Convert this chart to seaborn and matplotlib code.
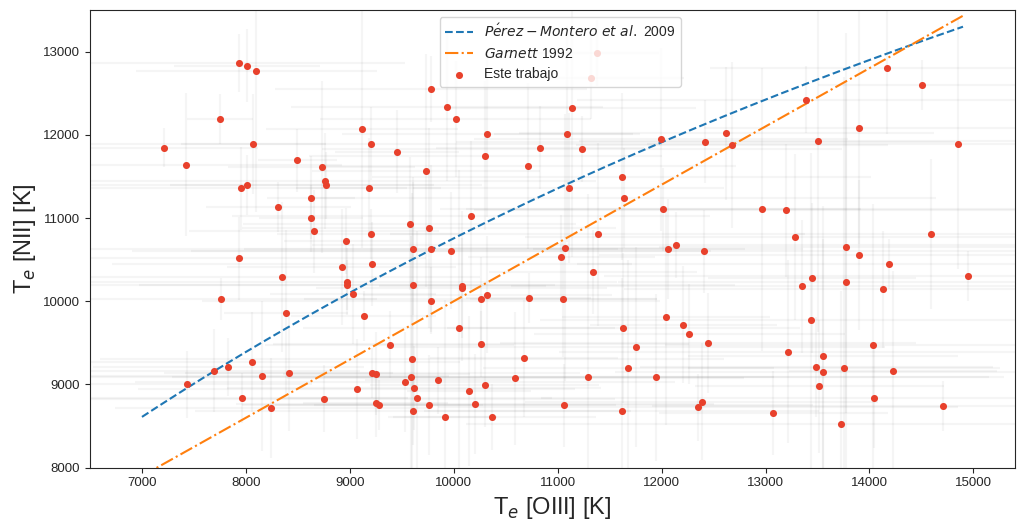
import numpy as np
import pandas as pd
import matplotlib
matplotlib.use("Agg")
import matplotlib.pyplot as plt
import seaborn as sns

# Electron temperatures of the sample: T_e[OIII], T_e[NII] and their uncertainties (K)
t_oiii = [7935, 8009, 8101, 7749, 9117, 9200, 9453, 7214, 8072, 7426,
          8495, 8729, 8764, 8774, 8009, 7954, 9181, 8627, 8312, 8627,
          8655, 9200, 8966, 7935, 9216, 8922, 8348, 8975, 8975, 9030,
          7759, 8386, 9133, 9383, 8063, 7695, 7832, 8156, 8415, 9216,
          9254, 7438, 9066, 7961, 8749, 8245, 9248, 9280, 9607, 9780,
          9975, 11035, 11070, 12060, 12134, 12405, 9607, 10075, 10084, 9780,
          10260, 10324, 10721, 11055, 11339, 10049, 10260, 9597, 10676, 11631,
          11752, 12040, 12207, 12268, 9585, 9530, 9616, 9642, 9607, 9850,
          9760, 9917, 10148, 10296, 10202, 10369, 10593, 11291, 11060, 11679,
          11948, 11615, 12352, 12386, 13777, 13895, 14190, 13443, 13351, 13777,
          14135, 14946, 13433, 12448, 13212, 13553, 14033, 13488, 13553, 13757,
          14228, 13517, 14043, 14708, 13075, 13722, 14164, 14504, 13389, 13904,
          12419, 12624, 12674, 13507, 14855, 12969, 13193, 13287, 14596, 9780,
          9936, 10017, 11134, 10324, 11089, 10830, 11237, 10305, 9732, 10712,
          11992, 11615, 11105, 11641, 12015, 10167, 9575, 9760, 11384, 11375,
          11320]
t_nii = [12861, 12828, 12768, 12191, 12067, 11891, 11798, 11846, 11891, 11638,
         11695, 11614, 11442, 11394, 11394, 11358, 11358, 11245, 11130, 10997,
         10841, 10805, 10725, 10517, 10448, 10412, 10288, 10235, 10192, 10091,
         10027, 9859, 9823, 9478, 9267, 9166, 9210, 9105, 9142, 9142,
         9130, 9002, 8946, 8841, 8829, 8717, 8774, 8750, 10632, 10632,
         10608, 10536, 10644, 10632, 10677, 10601, 10192, 10160, 10180, 10007,
         10031, 10079, 10043, 10031, 10352, 9682, 9487, 9303, 9315, 9682,
         9454, 9811, 9719, 9603, 9086, 9026, 8958, 8841, 8678, 9050,
         8750, 8609, 8922, 8990, 8769, 8609, 9074, 9094, 8750, 9198,
         9086, 8678, 8726, 8793, 10656, 10560, 10448, 10276, 10180, 10228,
         10144, 10307, 9775, 9499, 9394, 9346, 9474, 9210, 9150, 9198,
         9166, 8978, 8841, 8738, 8657, 8529, 12804, 12596, 12423, 12086,
         11915, 12019, 11878, 11927, 11891, 11106, 11094, 10769, 10805, 12548,
         12339, 12191, 12327, 12007, 12007, 11846, 11830, 11750, 11566, 11626,
         11947, 11498, 11358, 11245, 11106, 11025, 10933, 10884, 10805, 12981,
         12687]
err_oiii = [1600, 700, 1160, 320, 920, 2800, 600, 900, 700, 1500,
            380, 900, 2600, 1500, 1800, 1600, 700, 420, 700, 500,
            1200, 900, 600, 1800, 2500, 1100, 1900, 2600, 2000, 800,
            1500, 600, 700, 1200, 2000, 1400, 1300, 1800, 1000, 2000,
            900, 1200, 2100, 1600, 2800, 1500, 700, 1000, 3200, 1800,
            2500, 900, 1100, 1300, 3500, 5500, 3100, 1400, 800, 2200,
            1700, 1200, 600, 900, 1000, 1500, 2000, 3000, 900, 1700,
            2400, 1000, 900, 1500, 3500, 2600, 1800, 1300, 2100, 700,
            1800, 500, 600, 1100, 2300, 1000, 2200, 4000, 2400, 1400,
            3200, 1900, 2500, 1700, 1800, 2500, 3000, 1000, 2800, 2200,
            2500, 3500, 2600, 2000, 2200, 1300, 2000, 1700, 2000, 1500,
            1000, 1200, 3200, 2800, 1100, 3600, 1700, 1000, 2200, 1500,
            2400, 2000, 1500, 2300, 3000, 3100, 3000, 2600, 1300, 1500,
            1500, 1300, 1200, 1400, 700, 1000, 2500, 1700, 1100, 2000,
            1800, 2400, 1500, 3000, 1900, 2300, 1600, 1800, 2000, 600,
            900]
err_nii = [350, 440, 1700, 300, 1430, 440, 500, 230, 600, 860,
           380, 1030, 580, 400, 360, 500, 600, 500, 300, 400,
           500, 300, 400, 500, 500, 700, 900, 400, 300, 600,
           250, 1000, 300, 400, 600, 500, 350, 900, 700, 300,
           500, 400, 600, 300, 400, 600, 400, 300, 800, 1000,
           700, 500, 1600, 600, 400, 500, 1300, 600, 900, 400,
           500, 700, 300, 700, 500, 1900, 400, 2000, 700, 900,
           1200, 1300, 700, 600, 1700, 600, 500, 2000, 400, 400,
           600, 1400, 900, 500, 600, 400, 800, 2200, 500, 1300,
           1000, 1600, 400, 700, 2000, 900, 300, 900, 800, 3000,
           700, 300, 2000, 600, 1100, 1800, 1700, 600, 1600, 3500,
           1200, 800, 600, 300, 500, 1600, 800, 300, 400, 1400,
           500, 800, 1000, 2300, 1500, 1700, 800, 1000, 900, 400,
           900, 700, 1800, 1000, 1300, 500, 400, 900, 1400, 1000,
           1100, 1000, 900, 600, 500, 900, 800, 1200, 1100, 400,
           500]

# Relations from the literature, evaluated on a T_e[OIII] grid (K)
t_grid = np.linspace(7000, 14900, 200)
t4 = t_grid / 1e4
perez_montero = 1e4 * 1.85 / (1.0 / t4 + 0.72)
garnett = 0.7 * t_grid + 3000

df = pd.DataFrame({"toiii": t_oiii, "tnii": t_nii})
lines = pd.DataFrame({"t": t_grid, "pm": perez_montero, "g": garnett})

sns.set_style("ticks")
plt.rcParams["font.family"] = ["Liberation Sans", "DejaVu Sans"]
plt.rcParams["mathtext.fontset"] = "dejavusans"

fig = plt.figure(figsize=(10.17, 5.22), dpi=100)
ax = fig.add_axes([0.0885, 0.104, 0.9095, 0.877])

ax.errorbar(t_oiii, t_nii, xerr=err_oiii, yerr=err_nii, fmt="none",
            ecolor="gray", alpha=0.08, elinewidth=1.5, zorder=1)

sns.lineplot(data=lines, x="t", y="pm", ax=ax, color="#1f77b4", lw=1.5,
             linestyle="--", label=r"$P\acute{e}rez-Montero\ et\ al.$ 2009", zorder=2)
sns.lineplot(data=lines, x="t", y="g", ax=ax, color="#ff7f0e", lw=1.5,
             linestyle="-.", label=r"$Garnett$ 1992", zorder=2)
sns.scatterplot(data=df, x="toiii", y="tnii", ax=ax, color="#e8412c", s=26,
                linewidth=0, label="Este trabajo", zorder=3)

ax.set_xlim(6500, 15400)
ax.set_ylim(8000, 13500)
ax.set_xticks(range(7000, 15001, 1000))
ax.set_yticks(range(8000, 13001, 1000))
ax.tick_params(labelsize=9.5)
ax.set_xlabel(r"T$_e$ [OIII] [K]", fontsize=17)
ax.set_ylabel(r"T$_e$ [NII] [K]", fontsize=17)

ax.legend(loc="upper left", bbox_to_anchor=(0.378, 0.985), borderaxespad=0,
          fontsize=10, frameon=True)

fig.savefig("out.png", dpi=100)
